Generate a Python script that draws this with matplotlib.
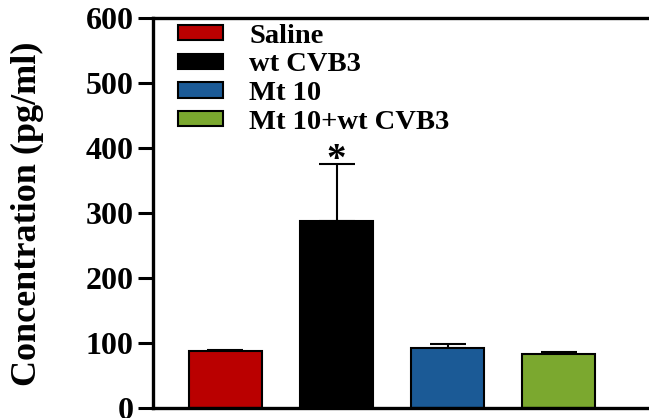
import numpy as np
import matplotlib.pyplot as plt

groups = ["Saline", "wt CVB3", "Mt 10", "Mt 10+wt CVB3"]
means = [87, 288, 92, 83]
sems = [3, 87, 6, 3]
colors = ["#BA0000", "#000000", "#1B5A96", "#7BA82F"]
yticks = [0, 100, 200, 300, 400, 500, 600]

plt.rcParams['font.family'] = ['Liberation Serif', 'DejaVu Serif']
plt.rcParams['font.weight'] = 'bold'

fig = plt.figure(figsize=(6.49, 4.18), dpi=100)
ax = fig.add_axes([153/649, 10/418, 1 - 153/649, 390/418])

x = np.arange(len(groups))
bars = ax.bar(x, means, width=0.66, color=colors, edgecolor="black", linewidth=1.5,
              label=groups, zorder=2)
ax.errorbar(x, means, yerr=[np.zeros(len(sems)), sems], fmt="none", ecolor="black",
            elinewidth=1.5, capsize=13, capthick=1.5, zorder=1)

# significance mark over wt CVB3
ax.text(x[1], means[1] + sems[1] - 9, "*", ha="center", va="baseline",
        fontsize=28, fontweight="bold")

ax.set_xlim(-0.653, 3.815)
ax.set_ylim(0, 600)
ax.set_yticks(yticks)
ax.set_xticks([])
ax.tick_params(axis="y", labelsize=23, width=2.2, length=11, pad=3)
for lab in ax.get_yticklabels():
    lab.set_fontweight("bold")
ax.spines["right"].set_visible(False)
for s in ["left", "top", "bottom"]:
    ax.spines[s].set_linewidth(2.4)

fig.text(27/649, 1 - 214/418, "Concentration (pg/ml)", rotation=90,
         ha="center", va="center", fontsize=26, fontweight="bold")

leg = ax.legend(handles=list(bars), labels=groups, loc="upper left",
                bbox_to_anchor=(0.039, 1.0), frameon=False, fontsize=20.5,
                handlelength=1.58, handleheight=0.46, labelspacing=0.13,
                handletextpad=0.92, borderaxespad=0.0, borderpad=0.2)

fig.savefig("out.png", dpi=100)
